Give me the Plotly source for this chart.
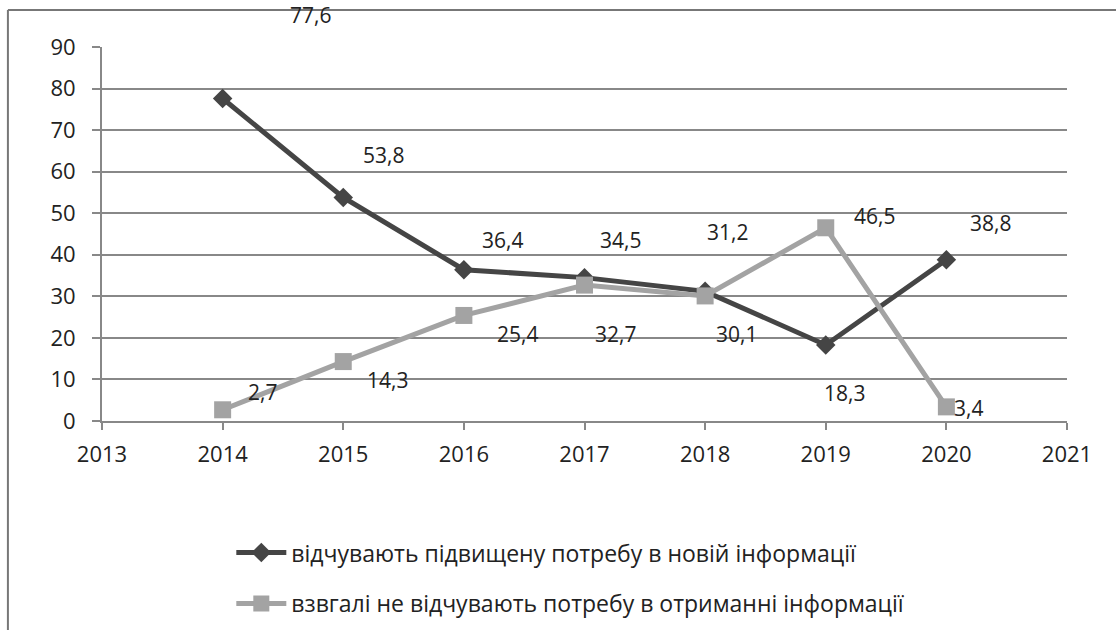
import plotly.graph_objects as go

years = [2014, 2015, 2016, 2017, 2018, 2019, 2020]
need_new_info = [77.6, 53.8, 36.4, 34.5, 31.2, 18.3, 38.8]
no_need_info = [2.7, 14.3, 25.4, 32.7, 30.1, 46.5, 3.4]
name1 = "відчувають підвищену потребу в новій інформації"
name2 = "взвгалі не відчувають потребу в отриманні інформації"

# label offsets in pixels (dx, dy up)
off1 = [(88, 84), (40, 42), (39, 30), (36, 38), (22, 59), (19, -48), (44, 37)]
off2 = [(40, 18), (44, -18), (54, -19), (31, -49), (31, -38), (49, 12), (22, -1)]

FONT = "Open Sans, Liberation Sans, sans-serif"
c1 = "#454545"
c2 = "#a3a3a3"

fig = go.Figure()
fig.add_trace(go.Scatter(
    x=years, y=need_new_info, name=name1, mode="lines+markers",
    line=dict(color=c1, width=5),
    marker=dict(symbol="diamond", size=15, color=c1),
    legendgroup="a",
))
fig.add_trace(go.Scatter(
    x=years, y=no_need_info, name=name2, mode="lines+markers",
    line=dict(color=c2, width=5),
    marker=dict(symbol="square", size=17, color=c2),
    legendgroup="b",
))

anns = []
for series, offs in ((need_new_info, off1), (no_need_info, off2)):
    for yr, v, (dx, dy) in zip(years, series, offs):
        anns.append(dict(
            x=yr, y=v, text=f"{v:.1f}".replace(".", ","), showarrow=False,
            xshift=dx, yshift=dy, font=dict(size=21, color="#222", family=FONT),
        ))

shapes = [
    dict(type="line", xref="paper", yref="paper", x0=-0.0975, x1=1.2, y0=1.099, y1=1.099,
         line=dict(color="#777", width=2)),
    dict(type="line", xref="paper", yref="paper", x0=-0.0975, x1=-0.0975, y0=1.099, y1=-0.6,
         line=dict(color="#777", width=2)),
]

fig.update_layout(
    width=1116, height=630,
    margin=dict(l=102, r=49, t=47, b=209, autoexpand=False),
    paper_bgcolor="white", plot_bgcolor="white",
    font=dict(family=FONT, size=21, color="#222"),
    showlegend=True,
    legend=dict(
        x=0.134, y=0.157, xanchor="left", yanchor="top", yref="container",
        font=dict(size=23, color="#222", family=FONT),
        tracegroupgap=18, itemwidth=50,
        bgcolor="rgba(0,0,0,0)",
    ),
    annotations=anns,
    shapes=shapes,
    xaxis=dict(
        range=[2013, 2021], tickmode="linear", tick0=2013, dtick=1,
        showgrid=False, zeroline=False, automargin=False,
        showline=True, linecolor="#888", linewidth=2,
        ticks="outside", ticklen=7, tickcolor="#888", tickwidth=2,
        tickfont=dict(size=22, color="#222"), ticklabelstandoff=6,
    ),
    yaxis=dict(
        range=[0, 90], tickmode="linear", tick0=0, dtick=10,
        showgrid=True, gridcolor="#888", gridwidth=2,
        zeroline=False, automargin=False,
        showline=True, linecolor="#888", linewidth=2,
        ticks="outside", ticklen=8, tickcolor="#888", tickwidth=2,
        tickfont=dict(size=22, color="#222"), ticklabelstandoff=12,
    ),
)

fig.write_html("out.html", config={"displayModeBar": False},
               post_script="document.body.style.margin='0';")
